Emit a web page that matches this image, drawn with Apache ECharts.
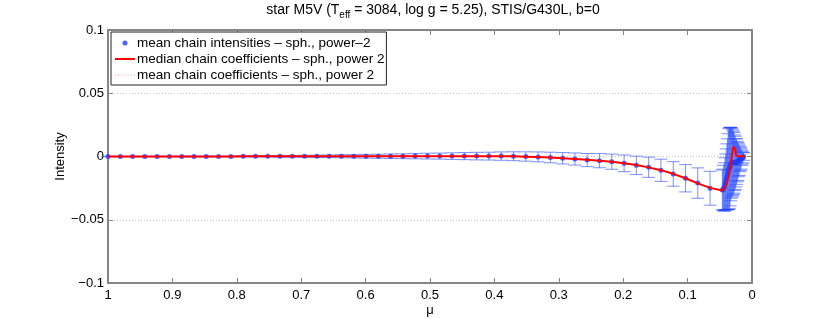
<!DOCTYPE html>
<html><head><meta charset="utf-8">
<script src="https://cdn.jsdelivr.net/npm/echarts@6/dist/echarts.min.js"></script>
<style>html,body{margin:0;padding:0;background:#fff}#c{width:830px;height:319px}</style>
</head><body><div id="c"></div>
<script>
// ---- data ----
const titleText = 'star M5V (T{sub|eff} = 3084, log g = 5.25), STIS/G430L, b=0';
const xTickLabels = ['1','0.9','0.8','0.7','0.6','0.5','0.4','0.3','0.2','0.1','0'];
const legendNames = ['mean chain intensities – sph., power–2','median chain coefficients – sph., power 2','mean chain coefficients – sph., power 2'];

// regular mu grid (mean chain intensities)
const muGrid = [1.0000,0.9809,0.9618,0.9428,0.9237,0.9046,0.8855,0.8664,0.8474,0.8283,
  0.8092,0.7901,0.7710,0.7520,0.7329,0.7138,0.6947,0.6756,0.6566,0.6375,
  0.6184,0.5993,0.5802,0.5612,0.5421,0.5230,0.5039,0.4848,0.4658,0.4467,
  0.4276,0.4085,0.3894,0.3704,0.3513,0.3322,0.3131,0.2940,0.2750,0.2559,
  0.2368,0.2177,0.1986,0.1796,0.1605,0.1414,0.1223,0.1032,0.0842,0.0651,0.0460];
const meanInt = [0,0,0,0,0,0,0,0,0,0,
  0,0.0001,0.0001,0.0001,0.0001,0.0001,0.0001,0.0001,0.0002,0.0002,
  0.0002,0.0002,0.0002,0.0002,0.0002,0.0003,0.0003,0.0003,0.0003,0.0003,
  0.0003,0.0003,0.0003,0.0002,0,-0.0003,-0.0008,-0.0014,-0.0020,-0.0028,
  -0.0033,-0.0041,-0.0054,-0.0070,-0.0085,-0.0109,-0.0138,-0.0172,-0.0210,-0.0251,-0.0265];
const errInt = [0.0002,0.0002,0.0002,0.0002,0.0002,0.0002,0.0003,0.0003,0.0003,0.0003,
  0.0003,0.0005,0.0005,0.0005,0.0007,0.0007,0.0008,0.0009,0.0010,0.0012,
  0.0013,0.0015,0.0016,0.0018,0.0019,0.0021,0.0023,0.0024,0.0026,0.0028,
  0.0030,0.0031,0.0033,0.0035,0.0037,0.0039,0.0042,0.0045,0.0048,0.0052,
  0.0056,0.0060,0.0066,0.0073,0.0080,0.0088,0.0097,0.0108,0.0120,0.0134,0.0158];

// dense sampling near the limb
const muDense = [0.045,0.044,0.043,0.042,0.041,0.040,0.039,0.038,0.037,0.036,0.035,
  0.034,0.033,0.032,0.031,0.030,0.029,0.028,0.027,0.026,0.025,0.024,0.023,0.022,
  0.021,0.020,0.019,0.018,0.017,0.016,0.015,0.014,0.013];
const meanDense = [-0.026,-0.025,-0.024,-0.022,-0.020,-0.018,-0.016,-0.014,-0.012,-0.010,-0.009,
  -0.008,-0.006,-0.005,-0.005,-0.005,-0.005,-0.005,-0.005,-0.005,-0.005,-0.004,-0.004,-0.004,
  -0.003,-0.003,-0.002,-0.002,-0.002,-0.001,-0.001,-0.001,0];
const errDense = [0.016,0.018,0.019,0.021,0.022,0.024,0.026,0.028,0.030,0.032,0.032,
  0.031,0.029,0.028,0.027,0.026,0.025,0.024,0.022,0.021,0.019,0.018,0.016,0.015,
  0.013,0.012,0.010,0.009,0.008,0.006,0.005,0.004,0.003];

// median chain coefficients (model curve)
const muMedian = [1.0000,0.9809,0.9618,0.9428,0.9237,0.9046,0.8855,0.8664,0.8474,0.8283,
  0.8092,0.7901,0.7710,0.7520,0.7329,0.7138,0.6947,0.6756,0.6566,0.6375,
  0.6184,0.5993,0.5802,0.5612,0.5421,0.5230,0.5039,0.4848,0.4658,0.4467,
  0.4276,0.4085,0.3894,0.3704,0.3513,0.3322,0.3131,0.2940,0.2750,0.2559,
  0.2368,0.2177,0.1986,0.1796,0.1605,0.1414,0.1223,0.1032,0.0842,0.0651,
  0.0460,0.0440,0.0420,0.0400,0.0380,0.0360,0.0345,0.0330,0.0315,0.0300,
  0.0290,0.0280,0.0272,0.0262,0.0252,0.0240,0.0230,0.0110];
const medianCoef = [0,0,0,0,0,0,0,0,0,0,
  0,0.0001,0.0001,0.0001,0.0001,0.0001,0.0001,0.0001,0.0001,0.0001,
  0.0001,0.0002,0.0002,0.0002,0.0002,0.0002,0.0002,0.0002,0.0002,0.0002,
  0.0002,0.0002,0.0002,0.0001,-0.0001,-0.0004,-0.0008,-0.0013,-0.0019,-0.0026,
  -0.0033,-0.0042,-0.0053,-0.0068,-0.0086,-0.0108,-0.0137,-0.0172,-0.0212,-0.0248,
  -0.0268,-0.0262,-0.0245,-0.0222,-0.0190,-0.0150,-0.0112,-0.0065,-0.0005,0.0050,
  0.0078,0.0090,0.0088,0.0060,0.0025,0.0004,0,0];
const meanCoef = [0,0,0,0,0,0,0,0,0,0,
  0,0.0001,0.0001,0.0001,0.0001,0.0001,0.0001,0.0001,0.0001,0.0001,
  0.0001,0.0002,0.0002,0.0002,0.0002,0.0002,0.0002,0.0002,0.0002,0.0002,
  0.0002,0.0002,0.0002,0.0001,-0.0001,-0.0004,-0.0008,-0.0013,-0.0019,-0.0026,
  -0.0033,-0.0042,-0.0053,-0.0068,-0.0086,-0.0108,-0.0137,-0.0172,-0.0212,-0.0248,
  -0.0268,-0.0262,-0.0245,-0.0222,-0.0190,-0.0150,-0.0112,-0.0065,-0.0005,0.0050,
  0.0078,0.0090,0.0088,0.0060,0.0025,0.0004,0,0];

// ---- chart ----
const FONT = 'Liberation Sans, Arial, Helvetica, sans-serif';
const CAP = 0.01;
const AXC = '#858585';
const muAll = muGrid.concat(muDense);
const meanAll = meanInt.concat(meanDense);
const errAll = errInt.concat(errDense);
const errData = muAll.map((m, i) => [m, meanAll[i], errAll[i]]);
const dotData = muAll.map((m, i) => [m, meanAll[i]]);
const medData = muMedian.map((m, i) => [m, medianCoef[i]]);
const meanCoefData = muMedian.map((m, i) => [m, meanCoef[i]]);

const chart = echarts.init(document.getElementById('c'), null, {renderer: 'canvas'});
const xBase = {type: 'value', min: 0, max: 1, interval: 0.1, inverse: true,
  axisLine: {show: true, onZero: false, lineStyle: {color: AXC, width: 2}},
  axisTick: {show: true, inside: true, length: 5, lineStyle: {color: AXC, width: 1}},
  splitLine: {show: false}};
const yBase = {type: 'value', min: -0.1, max: 0.1, interval: 0.05,
  axisLine: {show: true, onZero: false, lineStyle: {color: AXC, width: 2}},
  axisTick: {show: true, inside: true, length: 5, lineStyle: {color: AXC, width: 1}}};

chart.setOption({
  animation: false,
  backgroundColor: '#fff',
  title: {
    text: titleText, left: 428, top: -5, textAlign: 'center',
    textStyle: {fontFamily: FONT, fontSize: 14, fontWeight: 'normal', color: '#000',
      rich: {sub: {fontFamily: FONT, fontSize: 10, color: '#000', padding: [10, 0, 0, 0]}}}
  },
  grid: {left: 108, right: 78, top: 30, bottom: 36, containLabel: false, outerBoundsMode: 'none'},
  legend: {
    data: [
      {name: legendNames[0], icon: 'circle'},
      {name: legendNames[1], icon: 'path://M0,0h10v1h-10z'},
      {name: legendNames[2], icon: 'path://M0,0h1v1h-1zM3,0h1v1h-1zM6,0h1v1h-1zM9,0h1v1h-1zM12,0h1v1h-1zM15,0h1v1h-1zM18,0h1v1h-1z'}
    ],
    orient: 'vertical', left: 111, top: 32,
    backgroundColor: '#fff', borderColor: '#222', borderWidth: 1,
    padding: [4, 2, 3, 4], itemGap: 2, itemWidth: 20, itemHeight: 5,
    textStyle: {fontFamily: FONT, fontSize: 13.5, color: '#000', padding: [0, 0, 0, -3]}
  },
  xAxis: [
    Object.assign({}, xBase, {position: 'bottom', name: 'μ', nameLocation: 'middle', nameGap: 21,
      nameMoveOverlap: false,
      nameTextStyle: {fontFamily: FONT, fontSize: 13, color: '#000'},
      axisLabel: {fontFamily: FONT, fontSize: 13, color: '#000', margin: 6,
        formatter: v => xTickLabels[Math.round((1 - v) * 10)]}}),
    Object.assign({}, xBase, {position: 'top', axisLabel: {show: false}})
  ],
  yAxis: [
    Object.assign({}, yBase, {position: 'left', name: 'Intensity', nameLocation: 'middle', nameGap: 41,
      nameMoveOverlap: false,
      nameTextStyle: {fontFamily: FONT, fontSize: 13, color: '#000'},
      axisLabel: {fontFamily: FONT, fontSize: 13, color: '#000', margin: 4,
        formatter: v => (Math.abs(v) < 1e-9 ? '0' : String(+v.toFixed(2)).replace('-', '−'))},
      splitLine: {show: true, lineStyle: {color: '#c4c4c4', width: 1, type: [1, 2]}}}),
    Object.assign({}, yBase, {position: 'right', axisLabel: {show: false}, splitLine: {show: false}})
  ],
  series: [
    {
      name: 'errorbars', type: 'custom', data: errData, z: 2,
      renderItem: (params, api) => {
        const x = api.value(0), m = api.value(1), e = api.value(2);
        const top = api.coord([x, m + e]), bot = api.coord([x, m - e]);
        const l = api.coord([x + CAP, m])[0], r = api.coord([x - CAP, m])[0];
        const style = {stroke: 'rgba(35,70,255,0.6)', lineWidth: 1, fill: null};
        return {type: 'group', children: [
          {type: 'line', shape: {x1: top[0], y1: top[1], x2: bot[0], y2: bot[1]}, style},
          {type: 'line', shape: {x1: l, y1: top[1], x2: r, y2: top[1]}, style},
          {type: 'line', shape: {x1: l, y1: bot[1], x2: r, y2: bot[1]}, style}
        ]};
      }
    },
    {
      name: legendNames[0], type: 'scatter', data: dotData, symbol: 'circle', symbolSize: 5, z: 3,
      itemStyle: {color: '#1f3dff'}
    },
    {
      name: legendNames[2], type: 'line', data: meanCoefData, showSymbol: false, symbol: 'none', z: 4,
      lineStyle: {color: '#ff9a9a', width: 1, type: [1, 2]}, itemStyle: {color: '#ff9a9a'}
    },
    {
      name: legendNames[1], type: 'line', data: medData, showSymbol: false, symbol: 'none', z: 5,
      lineStyle: {color: '#ff0000', width: 2}, itemStyle: {color: '#ff0000'}
    }
  ]
});
</script></body></html>
